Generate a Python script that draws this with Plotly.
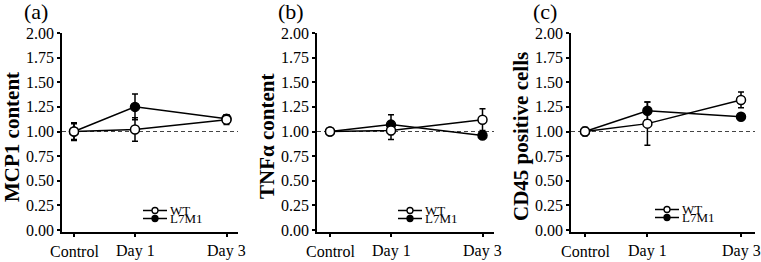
import plotly.graph_objects as go

W, H = 761, 262
FONT = "Liberation Serif"

categories = ["Control", "Day 1", "Day 3"]
x_pos = [0, 1, 2.5]
y_ticks = [0, 0.25, 0.5, 0.75, 1.0, 1.25, 1.5, 1.75, 2.0]

panel_labels = ["(a)", "(b)", "(c)"]
y_titles = ["MCP1 content", "TNFα content", "CD45 positive cells"]

wt_mean = [[1.00, 1.02, 1.12], [1.00, 1.01, 1.12], [1.00, 1.08, 1.32]]
wt_err = [[0.08, 0.12, 0.05], [0.03, 0.09, 0.11], [0.04, 0.22, 0.08]]
l7_mean = [[1.00, 1.25, 1.13], [1.00, 1.07, 0.96], [1.00, 1.21, 1.15]]
l7_err = [[0.09, 0.13, 0.04], [0.03, 0.10, 0.03], [0.04, 0.09, 0.03]]

# layout in pixels: (axis left, axis right, x of Control, px per unit)
panels_px = [(62, 238, 74, 61.0), (317, 494, 330, 61.0), (571, 755, 585, 62.4)]
y_top_px, y_bot_px = 33, 231.5
ymin, ymax = -0.015, 2.0

fig = go.Figure()

def px2fx(px):
    return px / W

def py2fy(py):
    return 1 - py / H

layout = dict(
    width=W, height=H, margin=dict(l=0, r=0, t=0, b=0),
    paper_bgcolor="white", plot_bgcolor="white", showlegend=False,
    font=dict(family=FONT, color="black"),
)
annotations = []
shapes = []

for i in range(3):
    left, right, x0px, ppu = panels_px[i]
    sfx = "" if i == 0 else str(i + 1)
    xr = [(left - x0px) / ppu, (right - x0px) / ppu]
    layout["xaxis" + sfx] = dict(
        domain=[px2fx(left), px2fx(right)], range=xr, anchor="y" + sfx,
        tickvals=x_pos, showticklabels=False, showline=True, linecolor="black",
        linewidth=1.5, ticks="outside", ticklen=4, tickwidth=1.5, tickcolor="black",
        showgrid=False, zeroline=False, automargin=False,
    )
    layout["yaxis" + sfx] = dict(
        domain=[py2fy(y_bot_px), py2fy(y_top_px)], range=[ymin, ymax],
        anchor="x" + sfx, tickvals=y_ticks, tickformat=".2f", showline=True,
        linecolor="black", linewidth=1.5, ticks="outside", ticklen=3,
        tickwidth=1.5, tickcolor="black", showgrid=False, zeroline=False,
        tickfont=dict(size=16, family=FONT, color="black"), automargin=False,
    )
    xa, ya = "x" + sfx, "y" + sfx
    # x tick labels
    for xv, lab in zip(x_pos, categories):
        annotations.append(dict(text=lab, xref=xa, yref="paper", x=xv,
                                y=py2fy(251), showarrow=False, xanchor="center",
                                yanchor="middle",
                                font=dict(size=16, family=FONT, color="black")))
    # dashed reference line
    shapes.append(dict(type="line", xref=xa + " domain", yref=ya, x0=0, x1=1,
                       y0=1, y1=1, line=dict(color="#444", width=1, dash="4px,3px"),
                       layer="below"))
    # traces
    for mean, err, fill, name in [(l7_mean[i], l7_err[i], "black", "L7M1"),
                                  (wt_mean[i], wt_err[i], "white", "WT")]:
        fig.add_trace(go.Scatter(
            x=x_pos, y=mean, xaxis=xa, yaxis=ya, mode="lines+markers", name=name,
            line=dict(color="black", width=1.5),
            marker=dict(symbol="circle", size=9, color=fill,
                        line=dict(color="black", width=1.5)),
            error_y=dict(type="data", array=err, visible=True, color="black",
                         thickness=1.5, width=3),
        ))
    # panel label
    annotations.append(dict(text=panel_labels[i], xref="paper", yref="paper",
                            x=px2fx(left - 26), y=py2fy(11), showarrow=False,
                            font=dict(size=22, family=FONT), xanchor="center",
                            yanchor="middle"))
    # y title
    annotations.append(dict(text="<b>" + y_titles[i] + "</b>", xref="paper",
                            yref="paper", x=px2fx(left - 50), y=py2fy(137),
                            showarrow=False, textangle=-90,
                            font=dict(size=21, family=FONT), xanchor="center",
                            yanchor="middle"))
    # manual legend
    lx0 = left + 81 + (3 if i == 2 else 0)
    lx1 = lx0 + 24
    mx = (lx0 + lx1) / 2
    for j, (name, fill) in enumerate([("WT", "white"), ("L7M1", "black")]):
        ly = 210.5 + 8 * j - (1 if i == 2 else 0)
        shapes.append(dict(type="line", xref="paper", yref="paper",
                           x0=px2fx(lx0), x1=px2fx(lx1), y0=py2fy(ly), y1=py2fy(ly),
                           line=dict(color="black", width=1.5)))
        shapes.append(dict(type="circle", xref="paper", yref="paper",
                           xsizemode="pixel", ysizemode="pixel",
                           xanchor=px2fx(mx), yanchor=py2fy(ly),
                           x0=-3, x1=3, y0=-3, y1=3, fillcolor=fill,
                           line=dict(color="black", width=1.3)))
        annotations.append(dict(text=name, xref="paper", yref="paper",
                                x=px2fx(lx1 + 1), y=py2fy(ly), showarrow=False,
                                xanchor="left", yanchor="middle",
                                font=dict(size=13, family=FONT)))

layout["annotations"] = annotations
layout["shapes"] = shapes
fig.update_layout(**layout)
fig.write_html(
    "out.html",
    config={"displayModeBar": False},
    post_script="document.body.style.margin='0';document.body.style.padding='0';"
                "document.body.style.overflow='hidden';",
)
